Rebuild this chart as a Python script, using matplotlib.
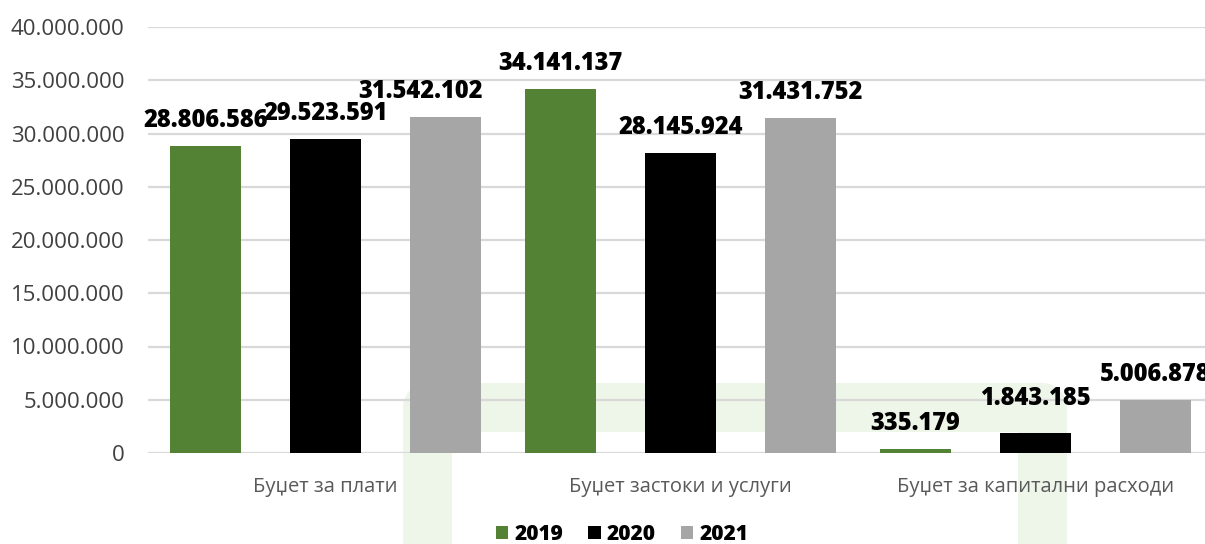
import matplotlib
matplotlib.use("Agg")
import matplotlib.pyplot as plt
import numpy as np
from matplotlib.lines import Line2D
from matplotlib.ticker import FuncFormatter, MultipleLocator

plt.rcParams["font.family"] = ["Open Sans", "DejaVu Sans"]

categories = ["Буџет за плати", "Буџет застоки и услуги", "Буџет за капитални расходи"]
years = ["2019", "2020", "2021"]
values_2019 = [28806586, 34141137, 335179]
values_2020 = [29523591, 28145924, 1843185]
values_2021 = [31542102, 31431752, 5006878]
colors = ["#548235", "#000000", "#a6a6a6"]

# label nudges in pixels (dx, dy) where labels would otherwise collide
label_shift = {(0, 2): (-25, 0), (2, 1): (0, 9)}


def dotted(v, _pos=None):
    return f"{int(v):,}".replace(",", ".")


W, H = 1205, 544
fig = plt.figure(figsize=(W / 100, H / 100), dpi=100)

# faint green frame drawn behind the chart
frame = Line2D([427 / W, 427 / W, 1042 / W, 1042 / W],
               [-0.1, (H - 407) / H, (H - 407) / H, -0.1],
               transform=fig.transFigure, color="#eef5e9", lw=49 * 0.72,
               solid_joinstyle="round", solid_capstyle="butt", zorder=0)
fig.add_artist(frame)

ax = fig.add_axes([148 / W, (H - 453) / H, 1065 / W, 426 / H])
ax.patch.set_alpha(0)

x = np.arange(len(categories))
offset = 0.338
width = 0.2
series = [values_2019, values_2020, values_2021]
for i, (vals, col, yr) in enumerate(zip(series, colors, years)):
    pos = x + (i - 1) * offset
    ax.bar(pos, vals, width, color=col, label=yr, zorder=3)
    for j, (px, v) in enumerate(zip(pos, vals)):
        dx, dy = label_shift.get((j, i), (0, 0))
        ax.annotate(dotted(v), (px, v), xytext=(dx * 0.72, (19 + dy) * 0.72),
                    textcoords="offset points", ha="center", va="baseline",
                    fontsize=17, fontweight=800, color="black",
                    annotation_clip=False, zorder=4)

ax.set_xlim(-0.5, 2.5)
ax.set_ylim(0, 40000000)
ax.yaxis.set_major_locator(MultipleLocator(5000000))
ax.yaxis.set_major_formatter(FuncFormatter(dotted))
ax.grid(axis="y", color="#d9d9d9", lw=1.6, zorder=1)
ax.set_axisbelow(True)
for s in ax.spines.values():
    s.set_visible(False)

ax.set_xticks(x)
ax.set_xticklabels(categories)
ax.tick_params(axis="x", length=0, pad=17, labelsize=14.5, labelcolor="#595959")
ax.tick_params(axis="y", length=0, pad=17, labelsize=16, labelcolor="#404040")

fig.legend(loc="center", bbox_to_anchor=(622 / W, (H - 534) / H), ncol=3,
           frameon=False, handlelength=0.6, handleheight=0.6, handletextpad=0.3,
           columnspacing=1.2, prop={"weight": 800, "size": 15})

fig.savefig("out.png", dpi=100)
